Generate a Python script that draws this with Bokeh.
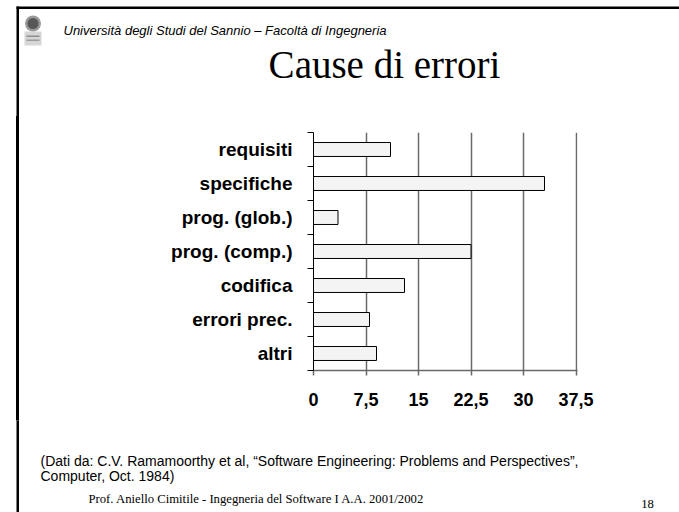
from bokeh.plotting import figure
from bokeh.models import Range1d, FixedTicker, Label, Div
from bokeh.layouts import column, row
from bokeh.embed import file_html
from bokeh.resources import INLINE

# ---- data ----
categories = ["requisiti", "specifiche", "prog. (glob.)", "prog. (comp.)",
              "codifica", "errori prec.", "altri"]
values = [11, 33, 3.5, 22.5, 13, 8, 9]
x_ticks = [0, 7.5, 15, 22.5, 30, 37.5]
x_tick_labels = ["0", "7,5", "15", "22,5", "30", "37,5"]

header_text = "Università degli Studi del Sannio – Facoltà di Ingegneria"
title_text = "Cause di errori"
note_lines = ["(Dati da: C.V. Ramamoorthy et al,  \u201cSoftware Engineering: Problems and Perspectives\u201d,",
              "Computer, Oct. 1984)"]
footer_text = "Prof. Aniello Cimitile - Ingegneria del Software I  A.A. 2001/2002"
page_number = "18"

# ---- page layout (pixels) ----
PAGE_W, PAGE_H = 679, 512
TOP_H = 120          # header strip
MID_H = 300          # chart strip
BOT_H = PAGE_H - TOP_H - MID_H
LEFT_W = 24          # left strip holding the slide frame line
BORDER_X0, BORDER_X1 = 16, 18.5
BORDER_Y0, BORDER_Y1 = 6, 8.5


def deco_figure(w, h):
    f = figure(width=w, height=h, output_backend="svg", toolbar_location=None,
               x_range=Range1d(0, w), y_range=Range1d(h, 0),
               x_axis_type=None, y_axis_type=None,
               min_border=0, min_border_left=0, min_border_right=0,
               min_border_top=0, min_border_bottom=0)
    f.outline_line_color = None
    f.background_fill_color = "white"
    f.border_fill_color = "white"
    return f


def add_text(f, txt, x, y, font, size, style="normal", align="left"):
    f.add_layout(Label(x=x, y=y, text=txt, text_font=font, text_font_size=size,
                       text_font_style=style, text_align=align,
                       text_baseline="alphabetic", text_color="black"))


# ---- top strip ----
top = deco_figure(PAGE_W, TOP_H)
top.quad(left=BORDER_X0, right=PAGE_W + 2, top=BORDER_Y0, bottom=BORDER_Y1,
         fill_color="black", line_color=None)
top.quad(left=BORDER_X0, right=BORDER_X1, top=BORDER_Y0, bottom=TOP_H + 1,
         fill_color="black", line_color=None)
# logo (approximation of the university seal)
top.quad(left=24, right=41, top=31, bottom=45, fill_color="#d6d6d6", line_color=None)
top.quad(left=26, right=39, top=35, bottom=36.5, fill_color="#8f8f8f", line_color=None)
top.quad(left=26, right=39, top=39, bottom=40.5, fill_color="#9c9c9c", line_color=None)
top.ellipse(x=32.5, y=23, width=16, height=16, fill_color="#9a9a9a", line_color=None)
top.ellipse(x=32.5, y=23, width=11, height=11, fill_color="#575757", line_color=None)
add_text(top, header_text, 63, 30, "Liberation Sans", "13px", "italic")
add_text(top, title_text, 384, 64, "Liberation Serif", "39px", align="center")

# ---- left strip (slide frame line) ----
left = Div(text=('<div style="position:absolute;left:%gpx;top:-4px;width:%gpx;'
                 'height:%dpx;background:#000"></div>')
           % (BORDER_X0, BORDER_X1 - BORDER_X0, MID_H + 8),
           width=LEFT_W, height=MID_H, margin=0,
           styles={"position": "relative", "overflow": "visible"})

# ---- chart ----
CH_W = PAGE_W - LEFT_W
FL = 313 - LEFT_W        # frame left
FT = 132 - TOP_H         # frame top
FW, FH = 264, 238
FB = MID_H - FT - FH
FR = CH_W - FL - FW
PX_PER_UNIT = 7.0

n = len(categories)
y_pos = [n - i - 0.5 for i in range(n)]
boundaries = list(range(n + 1))

p = figure(width=CH_W, height=MID_H, output_backend="svg", toolbar_location=None,
           x_range=Range1d(0, FW / PX_PER_UNIT), y_range=Range1d(0, n),
           min_border_left=FL, min_border_right=FR,
           min_border_top=FT, min_border_bottom=FB)
p.outline_line_color = None
p.background_fill_color = "white"
p.border_fill_color = "white"

p.hbar(y=y_pos, right=values, left=0, height=0.41,
       fill_color="#f4f4f4", line_color="black", line_width=1)

p.xaxis.ticker = FixedTicker(ticks=x_ticks)
p.xaxis.major_label_overrides = {t: l for t, l in zip(x_ticks, x_tick_labels)}
p.xaxis.major_label_text_font = "Liberation Sans"
p.xaxis.major_label_text_font_style = "bold"
p.xaxis.major_label_text_font_size = "18px"
p.xaxis.major_label_text_color = "black"
p.xaxis.major_label_standoff = 17
p.xaxis.major_tick_out = 5
p.xaxis.major_tick_in = 0
p.xaxis.minor_tick_line_color = None
p.xaxis.axis_line_color = "#6a6a6a"
p.xaxis.axis_line_width = 1.5
p.xaxis.major_tick_line_color = "#6a6a6a"
p.xaxis.major_tick_line_width = 1.5

p.yaxis.ticker = FixedTicker(ticks=y_pos, minor_ticks=boundaries)
p.yaxis.major_label_overrides = {y: c for y, c in zip(y_pos, categories)}
p.yaxis.major_label_text_font = "Liberation Sans"
p.yaxis.major_label_text_font_style = "bold"
p.yaxis.major_label_text_font_size = "19px"
p.yaxis.major_label_text_color = "black"
p.yaxis.major_label_standoff = 15
p.yaxis.major_tick_out = 0
p.yaxis.major_tick_in = 0
p.yaxis.major_tick_line_color = None
p.yaxis.minor_tick_out = 6
p.yaxis.minor_tick_in = 0
p.yaxis.minor_tick_line_color = "black"
p.yaxis.minor_tick_line_width = 1
p.yaxis.axis_line_color = "black"
p.yaxis.axis_line_width = 1

p.xgrid.ticker = FixedTicker(ticks=x_ticks)
p.xgrid.grid_line_color = "#6a6a6a"
p.xgrid.grid_line_width = 1.5
p.ygrid.grid_line_color = None

# ---- bottom strip ----
bot = deco_figure(PAGE_W, BOT_H)
bot.quad(left=BORDER_X0, right=BORDER_X1, top=-1, bottom=BOT_H + 1,
         fill_color="black", line_color=None)
Y0 = TOP_H + MID_H
add_text(bot, note_lines[0], 40, 460 - Y0, "Liberation Sans", "14px")
add_text(bot, note_lines[1], 40, 475 - Y0, "Liberation Sans", "14px")
add_text(bot, footer_text, 88, 498 - Y0, "Liberation Serif", "12.7px")
add_text(bot, page_number, 647, 503 - Y0, "Liberation Serif", "12.7px", align="center")

layout = column(top, row(left, p), bot)
open("out.html", "w").write(file_html(layout, INLINE))
